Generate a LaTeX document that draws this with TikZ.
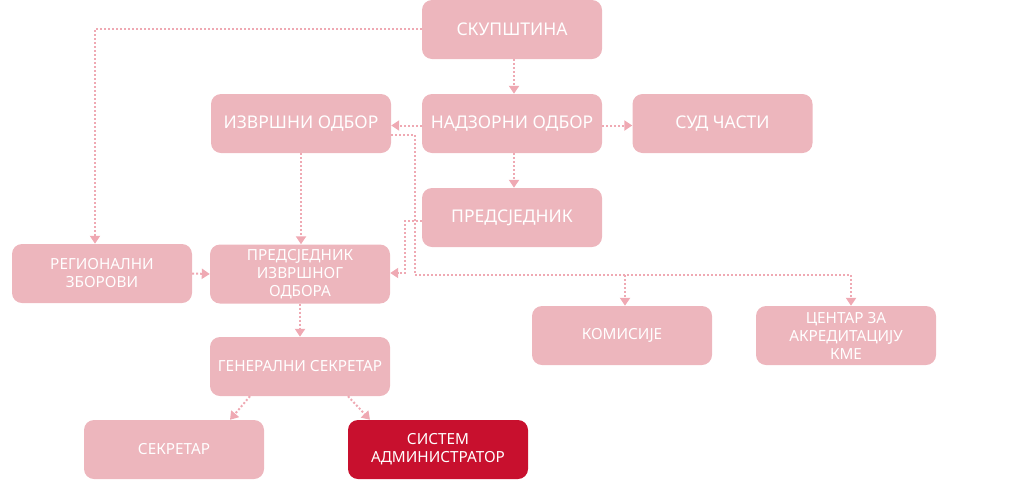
\documentclass[tikz,border=0pt]{standalone}
\usepackage{fontspec}
\setmainfont{Noto Sans}
\usetikzlibrary{arrows.meta}
\definecolor{boxpink}{HTML}{EDB6BD}
\definecolor{linepink}{HTML}{EFA9B3}
\definecolor{boxred}{HTML}{C8102E}
\tikzset{
  orgbox/.style={draw=none, fill=boxpink, rounded corners=10pt, minimum width=180pt, minimum height=59pt, inner sep=0pt, text=white, align=center},
  bigtxt/.style={font=\fontsize{17.5}{20}\selectfont},
  smalltxt/.style={font=\fontsize{15.3}{18}\selectfont},
  redbox/.style={fill=boxred},
  conn/.style={draw=linepink, line width=2pt, dash pattern=on 2pt off 2pt, -{Triangle[width=10pt,length=8pt,fill=linepink]}},
  connline/.style={draw=linepink, line width=2pt, dash pattern=on 2pt off 2pt},
}
\begin{document}
\begin{tikzpicture}[x=1pt, y=-1pt]
\useasboundingbox (0,0) rectangle (1024,480);
\node[orgbox, bigtxt] (sk) at (512,29.5) {СКУПШТИНА};
\node[orgbox, bigtxt] (nad) at (512,123.5) {НАДЗОРНИ ОДБОР};
\node[orgbox, bigtxt] (izv) at (301,123.5) {ИЗВРШНИ ОДБОР};
\node[orgbox, bigtxt] (sud) at (722.5,123.5) {СУД ЧАСТИ};
\node[orgbox, bigtxt] (pred) at (512,217.5) {ПРЕДСЈЕДНИК};
\node[orgbox, smalltxt] (reg) at (102,273.5) {РЕГИОНАЛНИ\\ЗБОРОВИ};
\node[orgbox, smalltxt] (pio) at (300,274) {ПРЕДСЈЕДНИК\\ИЗВРШНОГ\\ОДБОРА};
\node[orgbox, smalltxt] (kom) at (622,335.5) {КОМИСИЈЕ};
\node[orgbox, smalltxt] (cen) at (846,335.5) {ЦЕНТАР ЗА\\АКРЕДИТАЦИЈУ\\КМЕ};
\node[orgbox, smalltxt] (gen) at (300,366.5) {ГЕНЕРАЛНИ СЕКРЕТАР};
\node[orgbox, smalltxt] (sek) at (174,449.5) {СЕКРЕТАР};
\node[orgbox, smalltxt, redbox] (sys) at (438,449.5) {СИСТЕМ\\АДМИНИСТРАТОР};

\coordinate (j1) at (415,275);
\coordinate (j2) at (625,275);
\coordinate (j3) at (405,273);

\draw[conn] ([yshift=0.5pt]sk.west) -| ([xshift=-7pt]reg.north);
\draw[conn] ([xshift=2pt]sk.south) -- ([xshift=2pt]nad.north);
\draw[conn] ([yshift=-2pt]nad.west) -- ([yshift=-2pt]izv.east);
\draw[conn] ([yshift=-2pt]nad.east) -- ([yshift=-2pt]sud.west);
\draw[conn] ([xshift=2pt]nad.south) -- ([xshift=2pt]pred.north);
\draw[conn] (izv.south) -- (pio.north -| izv.south);
\draw[conn] ([yshift=-11.5pt]izv.east) -| (j1) -| ([xshift=5pt]cen.north);
\draw[conn] (j2) -- (kom.north -| j2);
\draw[conn] ([yshift=-3.5pt]pred.west) -| (j3) -- (pio.east |- j3);
\draw[conn] (reg.east) -- (pio.west);
\draw[conn] (pio.south) -- (gen.north);
\draw[conn] ([xshift=-50pt]gen.south) -- ([xshift=56pt]sek.north);
\draw[conn] ([xshift=48pt]gen.south) -- ([xshift=-68pt]sys.north);
\end{tikzpicture}
\end{document}
